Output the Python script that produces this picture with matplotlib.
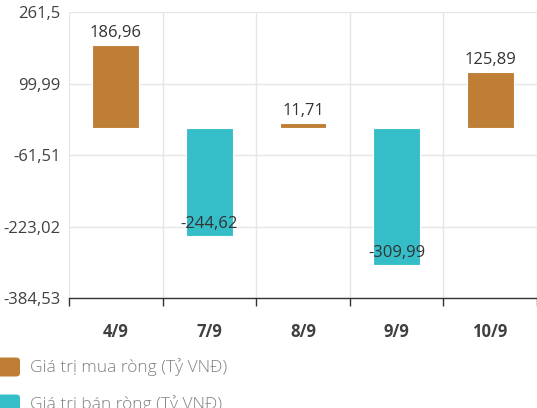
import matplotlib.pyplot as plt
from matplotlib.patches import FancyBboxPatch
import numpy as np

plt.rcParams['font.family'] = ['Open Sans', 'DejaVu Sans']

dates = ['4/9', '7/9', '8/9', '9/9', '10/9']
values = [186.96, -244.62, 11.71, -309.99, 125.89]
y_ticks = [-384.53, -223.02, -61.51, 99.99, 261.5]
y_tick_labels = ['-384,53', '-223,02', '-61,51', '99,99', '261,5']
legend_labels = ['Giá trị mua ròng (Tỷ VNĐ)', 'Giá trị bán ròng (Tỷ VNĐ)']

buy_color = '#bf7e36'
sell_color = '#35bec8'


def fmt(v):
    return f'{v:.2f}'.replace('.', ',')


fig = plt.figure(figsize=(5.37, 4.08), dpi=100)
ax = fig.add_axes([69 / 537, 1 - 298 / 408, 1 - 69 / 537, (298 - 12.3) / 408])

x = np.arange(len(dates))
colors = [buy_color if v >= 0 else sell_color for v in values]
bars = ax.bar(x, values, width=0.5, color=colors, edgecolor='#ffffff',
              linewidth=0.8, zorder=3)

for xi, v in zip(x, values):
    if v >= 0:
        ax.annotate(fmt(v), (xi, v), xytext=(0, 3), textcoords='offset points',
                    ha='center', va='bottom', fontsize=12, color='#333333',
                    fontweight='medium', zorder=4)
    else:
        ax.annotate(fmt(v), (xi, v), xytext=(0, 9), textcoords='offset points',
                    ha='center', va='center', fontsize=12, color='#333333',
                    fontweight='medium', zorder=4)

ax.set_ylim(y_ticks[0], y_ticks[-1])
ax.set_xlim(-0.5, 4.5 - 4 / 94)
ax.set_yticks(y_ticks)
ax.set_yticklabels(y_tick_labels)
ax.set_xticks(x)
ax.set_xticklabels(dates)

# grid at category boundaries
ax.set_xticks(np.arange(-0.5, len(dates), 1), minor=True)
ax.grid(axis='y', color='#e6e6e6', linewidth=1, zorder=0)
ax.grid(axis='x', which='minor', color='#e6e6e6', linewidth=1, zorder=0)

ax.tick_params(axis='x', which='major', length=0, pad=18, labelsize=12,
               labelcolor='#404040')
ax.tick_params(axis='x', which='minor', length=6, width=1, color='#333333')
ax.tick_params(axis='y', length=0, pad=6, labelsize=12, labelcolor='#404040')
for lab in ax.get_xticklabels():
    lab.set_fontweight('bold')
for lab in ax.get_yticklabels():
    lab.set_fontweight('medium')

for side in ['top', 'right', 'left']:
    ax.spines[side].set_visible(False)
ax.spines['bottom'].set_color('#333333')
ax.spines['bottom'].set_linewidth(1)

# legend at the bottom, second entry partly cut off as in the source
legend_y = [367, 404]
for c, label, ly in zip([buy_color, sell_color], legend_labels, legend_y):
    fig.patches.append(FancyBboxPatch((-4 / 537, 1 - (ly + 9.5) / 408), 24 / 537, 19 / 408,
                                      boxstyle='round,pad=0,rounding_size=0.008',
                                      transform=fig.transFigure, facecolor=c,
                                      edgecolor='none'))
    fig.text(30 / 537, 1 - ly / 408, label, fontsize=12.5, color='#808080',
             va='center', ha='left', fontweight='light')

fig.savefig('out.png', dpi=100)
